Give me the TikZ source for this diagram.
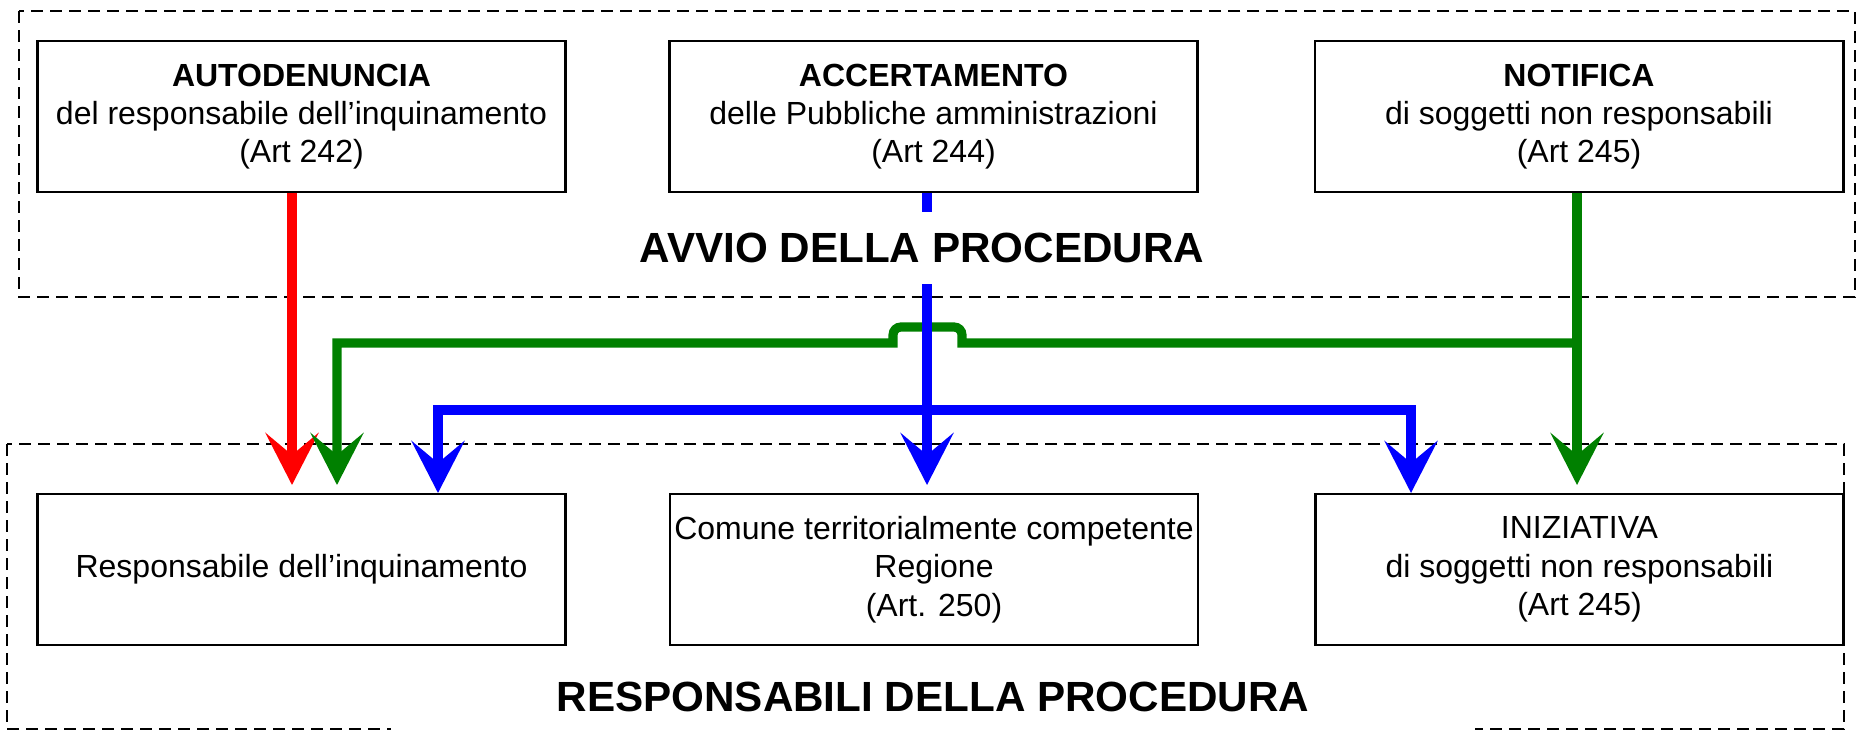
\documentclass[tikz,border=0pt]{standalone}
\usepackage{fontspec}
\setmainfont{Liberation Sans}
\usetikzlibrary{arrows.meta}
\definecolor{flowgreen}{RGB}{0,128,0}

\begin{document}
\begin{tikzpicture}[x=0.01cm, y=-0.01cm,
    box/.style={draw, line width=0.75pt, minimum width=5.28cm, minimum height=1.51cm,
        inner sep=0pt, align=center, font=\fontsize{9.1}{10.9}\selectfont},
    zone/.style={draw, line width=0.55pt, dash pattern=on 0.12cm off 0.07cm},
    zonelabel/.style={fill=white, inner sep=0pt, font=\fontsize{12}{14}\selectfont\bfseries},
    flow/.style={line width=2.6pt, -{Stealth[length=0.52cm, width=0.53cm, inset=0.22cm]}}]
    \useasboundingbox (0,0) rectangle (1858,731);

    % dashed zones
    \draw[zone] (19,11) rectangle (1855,297);
    \draw[zone] (7,444) rectangle (1844,729);

    % top row: avvio
    \node[box] (aut) at (301.5,116.5) {\textbf{AUTODENUNCIA}\\del responsabile dell’inquinamento\\(Art 242)};
    \node[box] (acc) at (933.5,116.5) {\textbf{ACCERTAMENTO}\\delle Pubbliche amministrazioni\\(Art 244)};
    \node[box] (ntf) at (1579,116.5) {\textbf{NOTIFICA}\\di soggetti non responsabili\\(Art 245)};

    % bottom row: responsabili
    \node[box] (res) at (301.5,569.5) {Responsabile dell’inquinamento};
    \node[box] (com) at (934,569.5) {Comune territorialmente competente\\Regione\\(Art. 250)};
    \node[box] (ini) at (1579.5,569.5) {INIZIATIVA\\di soggetti non responsabili\\(Art 245)};

    % arrow ends and branch points
    \coordinate (tR) at (292,485);
    \coordinate (tGl) at (337,485);
    \coordinate (tBl) at (438,493);
    \coordinate (tB) at (927,485);
    \coordinate (tBr) at (1411,493);
    \coordinate (tGr) at (1577,485);
    \coordinate (jB) at (927,410);
    \coordinate (jG) at (1577,343);

    % red: autodenuncia
    \draw[flow, red] (aut.south -| tR) -- (tR);
    % green: notifica, with a hop over the blue line
    \draw[flow, flowgreen] (ntf.south -| tGr) -- (tGr);
    \draw[flow, flowgreen] (jG) -- (962,343) -- (962,335) to[out=90,in=0] (954,327)
        -- (901,327) to[out=180,in=90] (893,335) -- (893,343) -| (tGl);
    % blue: accertamento
    \draw[flow, blue] (acc.south -| tB) -- (tB);
    \draw[flow, blue] (jB) -| (tBl);
    \draw[flow, blue] (jB) -| (tBr);

    % zone titles
    \node[zonelabel, minimum height=0.71cm] (avv) at (922,248) {AVVIO DELLA PROCEDURA};
    \node[zonelabel, minimum height=0.7cm, minimum width=10.84cm] (rsp) at (933,697) {RESPONSABILI DELLA PROCEDURA};
\end{tikzpicture}
\end{document}
